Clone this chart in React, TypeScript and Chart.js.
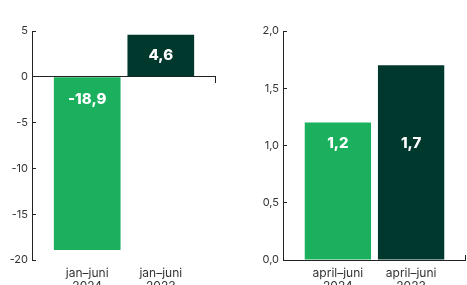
import React, { useEffect, useRef } from 'react';
import { Chart, registerables } from 'chart.js';

Chart.register(...registerables);

// ---- data ----
const leftCategories = [['jan–juni', '2024'], ['jan–juni', '2023']];
const leftValues = [-18.9, 4.6];
const leftMin = -20;
const leftMax = 5;
const leftStep = 5;

const rightCategories = [['april–juni', '2024'], ['april–juni', '2023']];
const rightValues = [1.2, 1.7];
const rightMin = 0;
const rightMax = 2;
const rightStep = 0.5;

const barColors = ['#1bb05e', '#00382e'];

const FONT = "Inter, 'Noto Sans', sans-serif";
const AXIS = '#222222';
const TEXT = '#333333';

const fmt = (v: number, dec: number) => v.toFixed(dec).replace('.', ',');

const decorPlugin = {
  id: 'decor',
  afterDatasetsDraw(chart: any, _args: any, opts: any) {
    const { ctx, chartArea, scales } = chart;
    const y = scales.y;
    const base = y.getPixelForValue(0);
    const meta = chart.getDatasetMeta(0);
    const vals = chart.data.datasets[0].data.map((d: any) => d.y);
    const posHeights = meta.data
      .filter((_b: any, i: number) => vals[i] >= 0)
      .map((b: any) => base - b.y);
    const minPos = posHeights.length ? Math.min(...posHeights) : 0;
    ctx.save();
    ctx.fillStyle = '#ffffff';
    ctx.font = `800 15px ${FONT}`;
    ctx.textAlign = 'center';
    ctx.textBaseline = 'middle';
    meta.data.forEach((bar: any, i: number) => {
      const v = vals[i];
      const ly = v >= 0 ? base - minPos + 21 : base + 23;
      ctx.fillText(fmt(v, 1), bar.x, ly);
    });
    ctx.strokeStyle = AXIS;
    ctx.lineWidth = 1;
    const x = Math.round(chartArea.right) - 0.5;
    const b0 = Math.round(base);
    ctx.beginPath();
    ctx.moveTo(x, b0);
    ctx.lineTo(x, b0 + opts.endTick);
    ctx.stroke();
    ctx.restore();
  },
};

function makeConfig(
  categories: string[][],
  values: number[],
  min: number,
  max: number,
  step: number,
  dec: number,
  yWidth: number,
  padRight: number,
  endTick: number
): any {
  return {
    type: 'bar',
    data: {
      datasets: [
        {
          data: values.map((v, i) => ({ x: i, y: v })),
          backgroundColor: barColors,
          borderWidth: 0,
          barPercentage: 0.906,
          categoryPercentage: 1,
        },
      ],
    },
    plugins: [decorPlugin],
    options: {
      animation: false,
      responsive: false,
      devicePixelRatio: 1,
      layout: { padding: { top: 31, right: padRight, bottom: 0, left: 0 } },
      plugins: {
        legend: { display: false },
        tooltip: { enabled: false },
        title: { display: false },
        decor: { endTick },
      },
      scales: {
        x: {
          type: 'linear',
          min: -0.75,
          max: 1.75,
          offset: false,
          grid: { display: false, drawTicks: false },
          border: { display: false },
          afterBuildTicks: (s: any) => {
            s.ticks = categories.map((_c, i) => ({ value: i }));
          },
          afterFit: (s: any) => {
            s.height = 25;
          },
          ticks: {
            autoSkip: false,
            maxRotation: 0,
            minRotation: 0,
            padding: 7,
            color: TEXT,
            font: { family: FONT, size: 12, lineHeight: 1.1 },
            callback: (v: any) => categories[Math.round(v)] ?? '',
          },
        },
        y: {
          min,
          max,
          afterFit: (s: any) => {
            s.width = yWidth;
          },
          ticks: {
            stepSize: step,
            padding: 8,
            color: TEXT,
            font: { family: FONT, size: 11 },
            callback: (v: any) => fmt(Number(v), dec),
          },
          grid: {
            drawOnChartArea: true,
            drawTicks: true,
            tickLength: -4,
            tickColor: AXIS,
            lineWidth: 1,
            color: (c: any) => (c.tick && c.tick.value === 0 ? AXIS : 'rgba(0,0,0,0)'),
          },
          border: { display: true, color: AXIS, width: 1 },
        },
      },
    },
  };
}

function BarPanel(props: { config: any; left: number; width: number }) {
  const ref = useRef<HTMLCanvasElement | null>(null);
  useEffect(() => {
    if (!ref.current) return;
    const chart = new Chart(ref.current, props.config);
    return () => chart.destroy();
  }, []);
  return (
    <canvas
      ref={ref}
      width={props.width}
      height={285}
      style={{ position: 'absolute', left: props.left, top: 0, width: props.width, height: 285 }}
    />
  );
}

export default function App() {
  const leftCfg = makeConfig(leftCategories, leftValues, leftMin, leftMax, leftStep, 0, 32, 17, 6);
  const rightCfg = makeConfig(rightCategories, rightValues, rightMin, rightMax, rightStep, 1, 50, 1, -5);
  return (
    <div
      style={{
        position: 'fixed',
        left: 0,
        top: 0,
        width: 467,
        height: 285,
        background: '#ffffff',
        overflow: 'hidden',
      }}
    >
      <BarPanel config={leftCfg} left={0} width={233} />
      <BarPanel config={rightCfg} left={233} width={234} />
    </div>
  );
}
